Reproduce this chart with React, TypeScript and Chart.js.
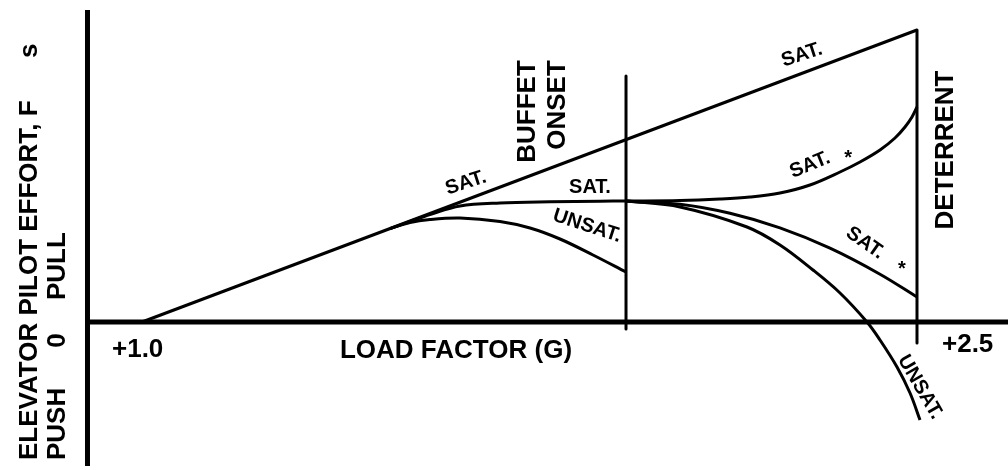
import React, { useEffect, useRef } from "react";
import Chart from "chart.js/auto";

// Load factor (G) and relative elevator pilot effort for each curve
const satMainG = [1.0, 2.5];
const satMainF = [0, 2.92];

const satUpperG = [1.48, 1.5187, 1.5574, 1.6155, 1.6929, 1.7897, 1.8865, 1.9368, 2.0413, 2.1187, 2.1768, 2.2348, 2.2929, 2.351, 2.3897, 2.4284, 2.4574, 2.4768, 2.4903, 2.5];
const satUpperF = [0.934, 1.005, 1.075, 1.16, 1.19, 1.202, 1.208, 1.21, 1.215, 1.23, 1.25, 1.29, 1.37, 1.5, 1.6, 1.72, 1.84, 1.95, 2.05, 2.15];

const satLowerG = [1.9368, 2.0413, 2.1381, 2.2348, 2.3316, 2.4284, 2.5];
const satLowerF = [1.21, 1.177, 1.087, 0.941, 0.738, 0.478, 0.25];

const unsatRightG = [1.9368, 2.0413, 2.171, 2.2348, 2.2987, 2.351, 2.4032, 2.4284, 2.4613, 2.4865, 2.5058];
const unsatRightF = [1.21, 1.15, 0.95, 0.77, 0.52, 0.29, 0, -0.18, -0.45, -0.71, -0.98];

const unsatLeftG = [1.48, 1.5187, 1.5574, 1.6155, 1.6929, 1.751, 1.809, 1.8729, 1.9368];
const unsatLeftF = [0.934, 0.995, 1.025, 1.04, 1.005, 0.94, 0.83, 0.67, 0.5];

const buffetG = [1.9368, 1.9368];
const buffetF = [2.46, -0.07];
const deterrentG = [2.5, 2.5];
const deterrentF = [2.92, -0.21];

const xAxisG = [0.8945, 2.6762];
const xAxisF = [0, 0];
const yAxisG = [0.8945, 0.8945];
const yAxisF = [-1.44, 3.12];

const G_MIN = 0.72516;
const G_MAX = 2.67613;
const F_MIN = -1.48;
const F_MAX = 3.22;

const FONT = '"Liberation Sans", Arial, Helvetica, sans-serif';

type Label = {
  text: string;
  g: number;
  f: number;
  size: number;
  angle: number;
  align: CanvasTextAlign;
  baseline: CanvasTextBaseline;
};

const LABELS: Label[] = [
  { text: "ELEVATOR PILOT EFFORT, F", g: 0.7968, f: -1.38, size: 26, angle: -90, align: "left", baseline: "alphabetic" },
  { text: "s", g: 0.7968, f: 2.64, size: 26, angle: -90, align: "left", baseline: "alphabetic" },
  { text: "PUSH", g: 0.851, f: -1.38, size: 26, angle: -90, align: "left", baseline: "alphabetic" },
  { text: "0", g: 0.851, f: -0.185, size: 26, angle: -90, align: "center", baseline: "alphabetic" },
  { text: "PULL", g: 0.851, f: 0.22, size: 26, angle: -90, align: "left", baseline: "alphabetic" },
  { text: "+1.0", g: 0.9419, f: -0.35, size: 26, angle: 0, align: "left", baseline: "alphabetic" },
  { text: "+2.5", g: 2.5484, f: -0.3, size: 26, angle: 0, align: "left", baseline: "alphabetic" },
  { text: "LOAD FACTOR (G)", g: 1.3832, f: -0.36, size: 26, angle: 0, align: "left", baseline: "alphabetic" },
  { text: "BUFFET", g: 1.7606, f: 2.105, size: 26, angle: -90, align: "center", baseline: "alphabetic" },
  { text: "ONSET", g: 1.8187, f: 2.17, size: 26, angle: -90, align: "center", baseline: "alphabetic" },
  { text: "DETERRENT", g: 2.5697, f: 1.72, size: 26, angle: -90, align: "center", baseline: "alphabetic" },
  { text: "SAT.", g: 1.6271, f: 1.39, size: 20, angle: -18, align: "center", baseline: "middle" },
  { text: "SAT.", g: 1.8671, f: 1.35, size: 20, angle: 0, align: "center", baseline: "middle" },
  { text: "UNSAT.", g: 1.8613, f: 0.96, size: 20, angle: 18, align: "center", baseline: "middle" },
  { text: "SAT.", g: 2.2774, f: 2.67, size: 20, angle: -18, align: "center", baseline: "middle" },
  { text: "SAT.", g: 2.2929, f: 1.57, size: 20, angle: -22, align: "center", baseline: "middle" },
  { text: "*", g: 2.3665, f: 1.585, size: 20, angle: 0, align: "center", baseline: "alphabetic" },
  { text: "SAT.", g: 2.3994, f: 0.79, size: 20, angle: 35, align: "center", baseline: "middle" },
  { text: "*", g: 2.471, f: 0.475, size: 20, angle: 0, align: "center", baseline: "alphabetic" },
  { text: "UNSAT.", g: 2.5058, f: -0.65, size: 20, angle: 60, align: "center", baseline: "middle" },
];

const toPoints = (gs: number[], fs: number[]) => gs.map((g, i) => ({ x: g, y: fs[i] }));

const textPlugin = {
  id: "diagramLabels",
  afterDatasetsDraw(chart: any) {
    const ctx: CanvasRenderingContext2D = chart.ctx;
    const xs = chart.scales.x;
    const ys = chart.scales.y;
    ctx.save();
    ctx.fillStyle = "#000";
    for (const l of LABELS) {
      const px = xs.getPixelForValue(l.g);
      const py = ys.getPixelForValue(l.f);
      ctx.save();
      ctx.translate(px, py);
      ctx.rotate((l.angle * Math.PI) / 180);
      ctx.font = `bold ${l.size}px ${FONT}`;
      ctx.textAlign = l.align;
      ctx.textBaseline = l.baseline;
      ctx.fillText(l.text, 0, 0);
      ctx.restore();
    }
    ctx.restore();
  },
};

export default function App() {
  const canvasRef = useRef<HTMLCanvasElement | null>(null);

  useEffect(() => {
    document.body.style.margin = "0";
    const canvas = canvasRef.current;
    if (!canvas) return;
    const line = (gs: number[], fs: number[], width: number, smooth: boolean) => ({
      data: toPoints(gs, fs),
      showLine: true,
      borderColor: "#000",
      backgroundColor: "#000",
      borderWidth: width,
      pointRadius: 0,
      borderCapStyle: "butt" as const,
      borderJoinStyle: "round" as const,
      tension: smooth ? 0.35 : 0,
      fill: false,
    });
    const chart = new Chart(canvas, {
      type: "scatter",
      data: {
        datasets: [
          line(xAxisG, xAxisF, 5, false),
          line(yAxisG, yAxisF, 5, false),
          line(satMainG, satMainF, 3, false),
          line(satUpperG, satUpperF, 3, true),
          line(satLowerG, satLowerF, 3, true),
          line(unsatRightG, unsatRightF, 3, true),
          line(unsatLeftG, unsatLeftF, 3, true),
          line(buffetG, buffetF, 3, false),
          line(deterrentG, deterrentF, 3, false),
        ],
      },
      options: {
        responsive: false,
        maintainAspectRatio: false,
        animation: false,
        devicePixelRatio: 1,
        layout: { padding: 0 },
        plugins: { legend: { display: false }, tooltip: { enabled: false } },
        scales: {
          x: { type: "linear", display: false, min: G_MIN, max: G_MAX },
          y: { type: "linear", display: false, min: F_MIN, max: F_MAX },
        },
      },
      plugins: [textPlugin],
    });
    return () => chart.destroy();
  }, []);

  return (
    <div style={{ position: "absolute", left: 0, top: 0, width: 1008, height: 470, background: "#fff" }}>
      <canvas ref={canvasRef} width={1008} height={470} style={{ display: "block" }} />
    </div>
  );
}
